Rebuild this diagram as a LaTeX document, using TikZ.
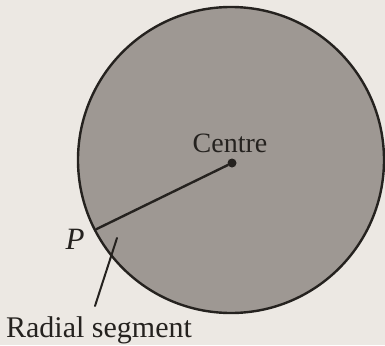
\documentclass[tikz,border=0pt]{standalone}
\usepackage{fontspec}
\setmainfont{Liberation Serif}
\usetikzlibrary{calc}
\definecolor{ink}{HTML}{25221F}
\definecolor{paper}{HTML}{ECE8E3}
\definecolor{disc}{HTML}{9E9893}

\begin{document}
\begin{tikzpicture}[x=1pt,y=-1pt,line cap=round,
  lbl/.style={text=ink,inner sep=0pt,font=\fontsize{28}{32}\selectfont}]
\fill[paper] (0,0) rectangle (385,345);
\useasboundingbox (0,0) rectangle (385,345);
\draw[ink,line width=2.4pt,fill=disc] (231,160) circle[radius=153];
\node[fill=ink,circle,inner sep=0pt,minimum size=9pt] (c) at (232,163) {};
\coordinate (p) at ($(232,163)+(154:151)$);
\node[lbl,anchor=base] (centre) at (230,152) {Centre};
\node[lbl,anchor=base,font=\fontsize{31}{34}\selectfont] (plbl) at (75,249) {\itshape P};
\node[lbl,anchor=base,font=\fontsize{30}{34}\selectfont] (rad) at (99,337) {Radial segment};
\coordinate (tip) at (117,238);
\coordinate (foot) at ($(rad.north)+(-4,-10)$);
\draw[ink,line width=2.4pt] (c)--(p);
\draw[ink,line width=2pt] (foot)--(tip);
\end{tikzpicture}
\end{document}
